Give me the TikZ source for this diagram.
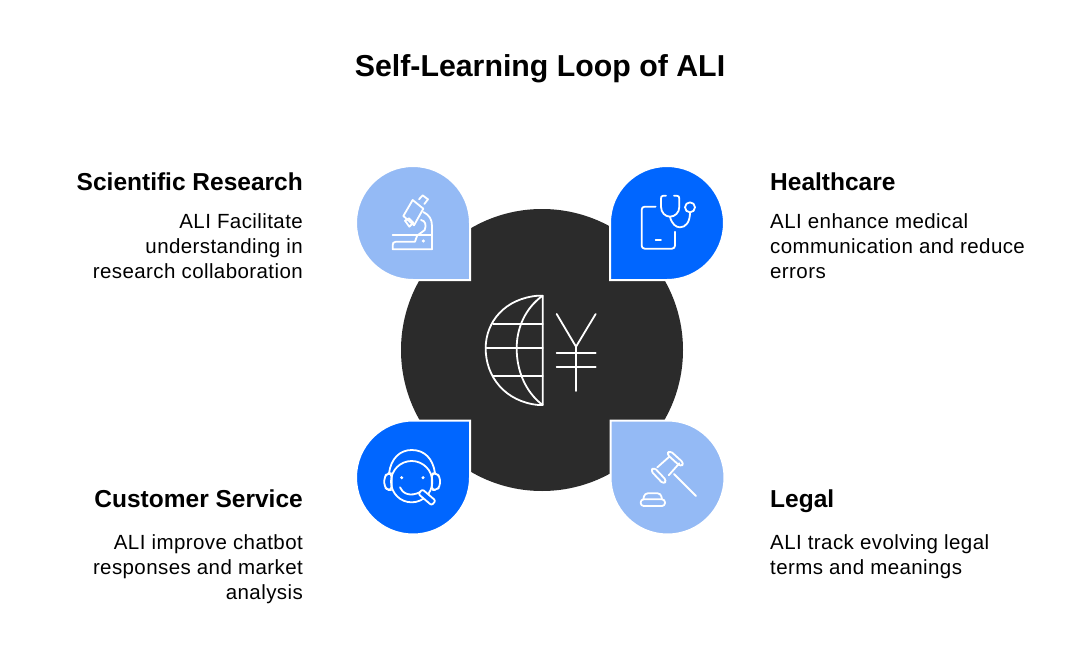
\documentclass[tikz,border=0pt]{standalone}
\usepackage{fontspec}
\setmainfont{Liberation Sans}
\newfontfamily\bodyfont[LetterSpace=2]{Liberation Sans}
\definecolor{hubgray}{HTML}{2B2B2B}
\definecolor{dropblue}{HTML}{0066FF}
\definecolor{droplight}{HTML}{94BAF5}
\tikzset{
  heading/.style={font=\bfseries\fontsize{24.5}{28}\selectfont,inner sep=0pt},
  bodyleft/.style={font=\bodyfont\fontsize{20.5}{25}\selectfont,inner sep=0pt,anchor=north east,align=right},
  bodyright/.style={font=\bodyfont\fontsize{20.5}{25}\selectfont,inner sep=0pt,anchor=north west,align=left},
  drop/.style={draw=white,line width=2pt},
  icon/.style={draw=white,line width=1.8pt,line join=round,line cap=round},
}
% centre x, centre y, flip x, flip y, colour
\newcommand{\dropshape}[5]{
\draw[drop,fill=#5,shift={(#1,#2)},xscale=#3,yscale=#4] (57,57) -- (0,57) .. controls (-31.5,57) and (-57,31.5) .. (-57,0) .. controls (-57,-31.5) and (-31.5,-57) .. (0,-57) .. controls (31.5,-57) and (57,-31.5) .. (57,0) -- cycle;
}
\begin{document}
\begin{tikzpicture}[x=1pt,y=-1pt]
\useasboundingbox (0,0) rectangle (1080,661);

\node[font=\bfseries\fontsize{30.3}{34}\selectfont,inner sep=0pt,anchor=base] (title) at (540,77) {Self-Learning Loop of ALI};

% hub
\fill[hubgray] (542,350) circle (141pt);

% drops
\dropshape{413}{223}{1}{1}{droplight}
\dropshape{667}{223}{-1}{1}{dropblue}
\dropshape{413}{477.5}{1}{-1}{dropblue}
\dropshape{667.5}{477.5}{-1}{-1}{droplight}

% globe and yen
\begin{scope}[shift={(470,280)},scale=1/3]
\draw[icon] (218,47) -- (218,375) -- (205,375) .. controls (105,365) and (47,290) .. (47,205) .. controls (47,125) and (105,55) .. (205,47) -- cycle;
\draw[icon] (218,47) .. controls (165,85) and (140,145) .. (140,205) .. controls (140,270) and (165,335) .. (218,375);
\draw[icon] (70,132) -- (218,132);
\draw[icon] (47,205) -- (218,205);
\draw[icon] (70,289) -- (218,289);
\draw[icon] (260,102) -- (318,200) -- (377,102);
\draw[icon] (318,200) -- (318,333);
\draw[icon] (260,218) -- (377,218);
\draw[icon] (260,262) -- (377,262);
\end{scope}

% microscope
\begin{scope}[shift={(340,150)},scale=1/3]
\draw[icon] (218,150) -- (250,176) -- (222,226) -- (190,198) -- cycle;
\draw[icon] (237,148) -- (248,136) -- (264,148) -- (253,162);
\draw[icon] (195,212) -- (207,205) -- (220,218) -- (208,230) -- cycle;
\draw[icon] (250,186) .. controls (268,195) and (276,208) .. (276,228) -- (276,298);
\draw[icon] (243,210) .. controls (256,212) and (260,225) .. (254,240) -- (234,255);
\draw[icon] (158,255) -- (276,255);
\draw[icon] (232,255) -- (225,275) -- (168,275) .. controls (160,275) and (158,280) .. (158,286) -- (158,298) -- (276,298);
\fill[white] (250,273) circle (5);
\end{scope}

% stethoscope
\begin{scope}[shift={(590,150)},scale=1/3]
\draw[icon,rounded corners=3pt] (197,170) -- (155,170) -- (155,296) -- (255,296) -- (255,245);
\draw[icon] (197,269) -- (213,269);
\draw[icon] (228,137) -- (220,137) .. controls (214,137) and (213,141) .. (213,146) -- (213,170) .. controls (213,188) and (226,200) .. (240,200) .. controls (255,200) and (268,188) .. (268,170) -- (268,146) .. controls (268,141) and (266,137) .. (260,137) -- (252,137);
\draw[icon] (240,200) .. controls (245,222) and (258,232) .. (270,232) .. controls (288,232) and (300,215) .. (300,188);
\draw[icon] (300,172) circle (15);
\end{scope}

% headset
\begin{scope}[shift={(345,410)},scale=1/3]
\draw[icon] (200,215) circle (62);
\draw[icon] (132,190) .. controls (138,145) and (165,120) .. (200,120) .. controls (238,120) and (264,145) .. (270,190);
\draw[icon,rounded corners=3.5pt] (140,190) -- (128,190) -- (118,200) -- (118,230) -- (128,240) -- (140,240) -- cycle;
\draw[icon,rounded corners=3.5pt] (260,190) -- (274,190) -- (285,200) -- (285,230) -- (274,240) -- (260,240) -- cycle;
\fill[white] (170,203) circle (5);
\fill[white] (234,203) circle (5);
\draw[icon] (165,232) .. controls (172,250) and (195,262) .. (226,246);
\draw[icon,fill=dropblue,rounded corners=2pt] (232,238) -- (272,272) -- (260,286) -- (220,252) -- cycle;
\end{scope}

% gavel
\begin{scope}[shift={(600,410)},scale=1/3]
\draw[icon,rounded corners=3pt] (152,182) -- (162,172) -- (200,212) -- (190,222) -- cycle;
\draw[icon,rounded corners=3pt] (200,132) -- (210,122) -- (252,160) -- (242,170) -- cycle;
\draw[icon] (172,172) -- (208,140);
\draw[icon] (206,196) -- (238,160);
\draw[icon] (222,192) -- (288,258);
\draw[icon,rounded corners=3pt] (130,268) -- (134,250) -- (182,250) -- (186,268);
\draw[icon,rounded corners=3pt] (122,268) -- (195,268) -- (195,288) -- (122,288) -- cycle;
\end{scope}

% texts
\node[heading,anchor=base east] (sciHead) at (303,190) {Scientific Research};
\node[bodyleft] (sciBody) at (303,213) {ALI Facilitate\\understanding in\\research collaboration};
\node[heading,anchor=base west] (healthHead) at (770,190) {Healthcare};
\node[bodyright] (healthBody) at (770,213) {ALI enhance medical\\communication and reduce\\errors};
\node[heading,anchor=base east] (custHead) at (303,507) {Customer Service};
\node[bodyleft] (custBody) at (303,534) {ALI improve chatbot\\responses and market\\analysis};
\node[heading,anchor=base west] (legalHead) at (770,507) {Legal};
\node[bodyright] (legalBody) at (770,534) {ALI track evolving legal\\terms and meanings};

\end{tikzpicture}
\end{document}
